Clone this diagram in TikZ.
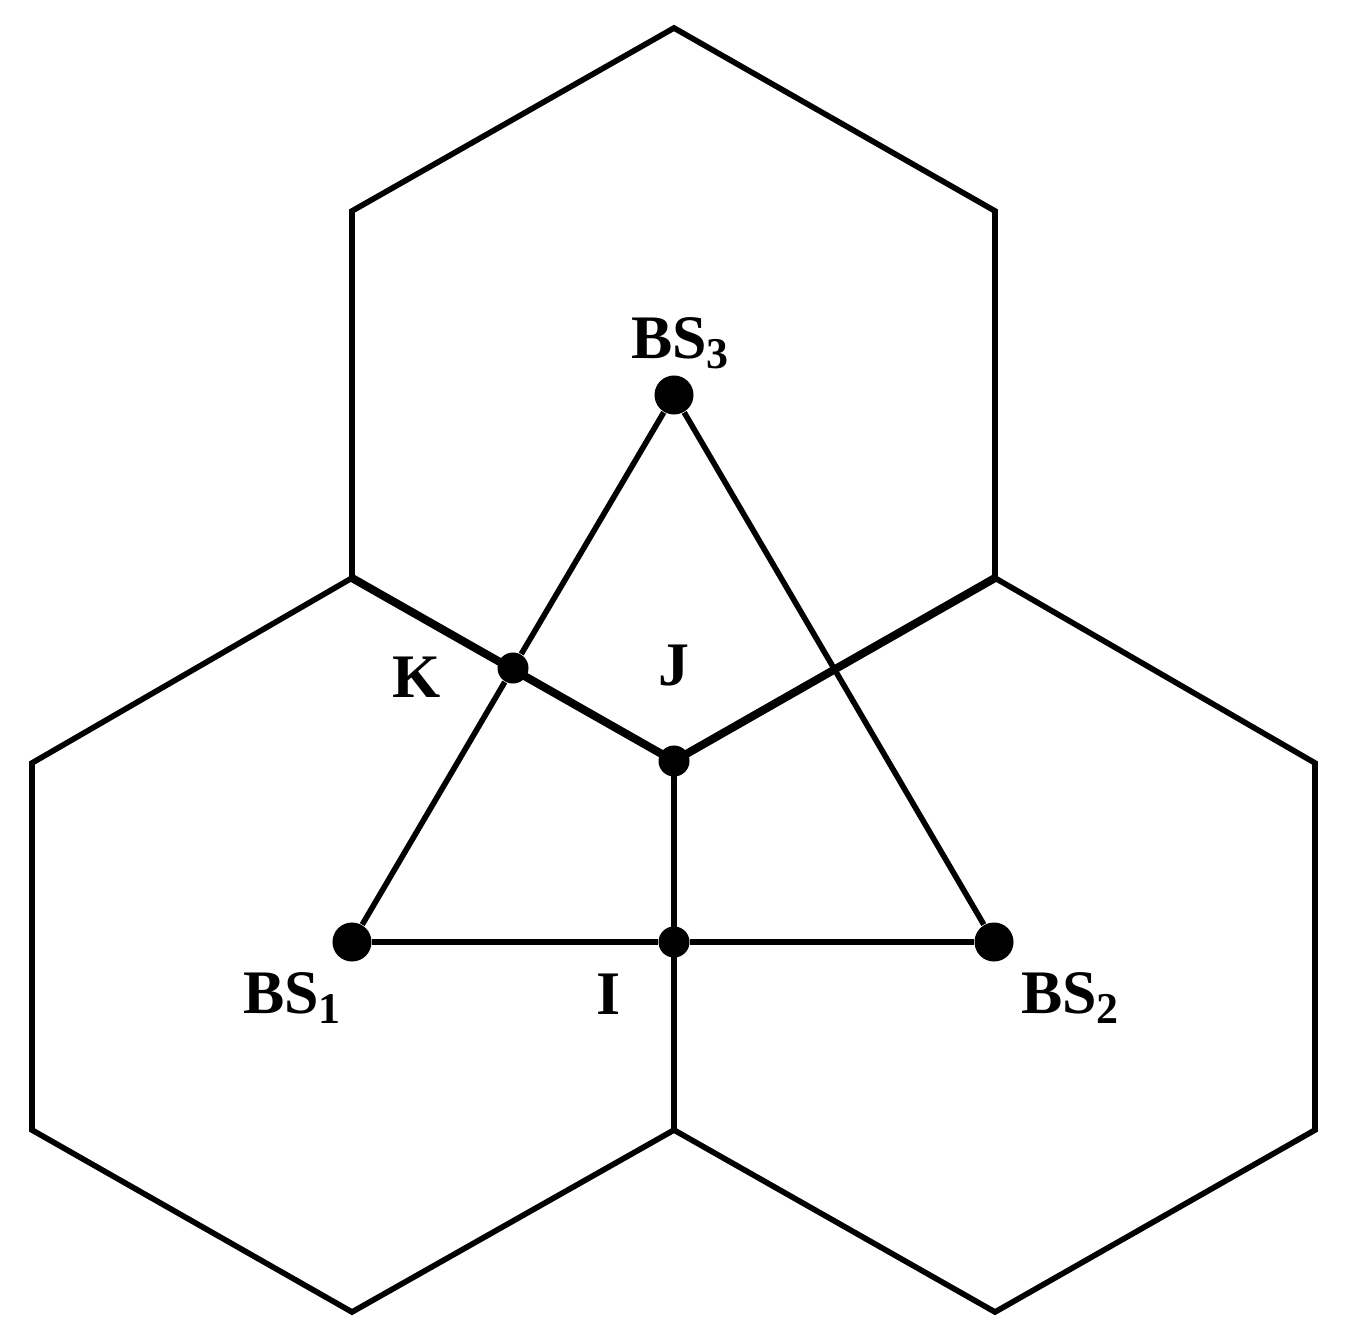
\documentclass[tikz,border=0pt]{standalone}
\usepackage{fontspec}
\setmainfont{Liberation Serif}
\newcommand{\lsub}[1]{\raisebox{-3pt}{\fontsize{12.5}{12.5}\selectfont #1}}
\begin{document}
\begin{tikzpicture}[x=0.01cm,y=-0.01cm,
  edge/.style={line width=1.6pt,line join=miter},
  thickedge/.style={line width=2.3pt},
  bsdot/.style={circle,fill=black,inner sep=0pt,minimum size=0.39cm},
  ptdot/.style={circle,fill=black,inner sep=0pt,minimum size=0.31cm},
  lbl/.style={font=\fontsize{17.6}{20}\selectfont\bfseries,inner sep=0pt,anchor=base}]
\useasboundingbox (0,0) rectangle (1349,1343);
% hexagon vertices
\coordinate (t3) at (674,28);
\coordinate (ul3) at (352,211);
\coordinate (ur3) at (995,211);
\coordinate (v13) at (352,578);
\coordinate (v23) at (995,578);
\coordinate (c) at (674,761);
\coordinate (ul1) at (32,763);
\coordinate (ll1) at (32,1130);
\coordinate (b1) at (352,1312);
\coordinate (v12) at (674,1130);
\coordinate (ur2) at (1315,763);
\coordinate (lr2) at (1315,1130);
\coordinate (b2) at (995,1312);
% hexagons
\draw[edge] (c) -- (v13) -- (ul3) -- (t3) -- (ur3) -- (v23) -- cycle;
\draw[edge] (c) -- (v13) -- (ul1) -- (ll1) -- (b1) -- (v12) -- cycle;
\draw[edge] (c) -- (v23) -- (ur2) -- (lr2) -- (b2) -- (v12) -- cycle;
\draw[thickedge] (v13) -- (c) -- (v23);
% points
\node[bsdot] (bs1) at (352,942) {};
\node[bsdot] (bs2) at (994,942) {};
\node[bsdot] (bs3) at (674,395) {};
\node[ptdot] (k) at (513,668) {};
\node[ptdot] (i) at (674,942) {};
\node[ptdot] (j) at (c) {};
% triangle
\draw[edge] (bs1) -- (k) -- (bs3) -- (bs2) -- (i) -- (bs1);
% labels
\node[lbl] (lbs3) at (680,358) {BS\lsub{3}};
\node[lbl] (lbs1) at (292,1013) {BS\lsub{1}};
\node[lbl] (lbs2) at (1070,1013) {BS\lsub{2}};
\node[lbl] (li) at (609,1014) {I};
\node[lbl] (lk) at (417,697) {K};
\node[lbl] (lj) at (674,685) {J};
\end{tikzpicture}
\end{document}
